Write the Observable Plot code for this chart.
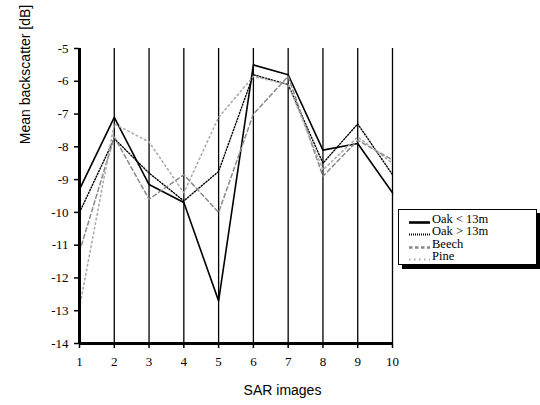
<!DOCTYPE html>
<html>
<head>
<meta charset="utf-8">
<script src="https://cdn.jsdelivr.net/npm/d3@7"></script>
<script src="https://cdn.jsdelivr.net/npm/@observablehq/plot@0.6"></script>
<style>
  body { margin: 0; background: #fff; }
  #wrap { position: relative; width: 540px; height: 405px; background: #fff; }
  #legend { position: absolute; left: 398px; top: 209px; width: 139px; height: 56px; box-sizing: border-box;
    border: 1px solid #000; background: #fff; box-shadow: 4px 4px 0 #000; font-family: "Liberation Serif", serif; font-size: 12.5px; color: #000; }
  .row { position: absolute; left: 0; height: 13px; width: 100%; }
  .row svg { position: absolute; left: 10px; top: 0; }
  .row span { position: absolute; left: 33px; top: 0px; line-height: 13px; white-space: nowrap; }
</style>
</head>
<body>
<div id="wrap"></div>
<script>
// ---- data ----
const images = [1, 2, 3, 4, 5, 6, 7, 8, 9, 10];
const oakLow  = [-9.3, -7.1, -9.15, -9.7, -12.7, -5.5, -5.8, -8.1, -7.9, -9.4];
const oakHigh = [-10.0, -7.75, -8.8, -9.65, -8.75, -5.8, -6.1, -8.5, -7.3, -8.85];
const beech   = [-11.2, -7.7, -9.6, -8.85, -10.0, -7.0, -5.85, -8.9, -7.8, -8.4];
const pine    = [-12.9, -7.3, -7.85, -9.4, -7.1, -5.85, -6.1, -8.7, -7.7, -8.5];
const seriesNames = ["Oak < 13m", "Oak > 13m", "Beech", "Pine"];
const yTicks = [-5, -6, -7, -8, -9, -10, -11, -12, -13, -14];

// ---- styles ----
const styles = [
  {stroke: "#000", strokeWidth: 1.6, dash: null, legendWidth: 2.6, legendDash: null},
  {stroke: "#000", strokeWidth: 1.4, dash: "1.2,1.8", legendWidth: 2.2, legendDash: "1,1"},
  {stroke: "#888", strokeWidth: 1.5, dash: "4,3", legendWidth: 2.6, legendDash: "3.5,2.5"},
  {stroke: "#aaa", strokeWidth: 1.6, dash: "1.5,3.2", legendWidth: 1.8, legendDash: "1.5,3.5"}
];

const seriesValues = [oakLow, oakHigh, beech, pine];
const tables = seriesValues.map((vals, i) => images.map((x, j) => ({image: x, value: vals[j], series: seriesNames[i]})));

const chart = Plot.plot({
  width: 540,
  height: 405,
  marginLeft: 79,
  marginRight: 148,
  marginTop: 48,
  marginBottom: 62,
  style: {fontFamily: "Liberation Serif", fontSize: "13px", color: "#000", background: "#fff"},
  x: {domain: [1, 10]},
  y: {domain: [-14, -5]},
  marks: [
    Plot.ruleX(images, {stroke: "#000", strokeWidth: 1.3}),
    ...tables.map((t, i) => Plot.line(t, {
      x: "image", y: "value",
      stroke: styles[i].stroke, strokeWidth: styles[i].strokeWidth,
      strokeDasharray: styles[i].dash || undefined
    })),
    Plot.ruleX([1], {stroke: "#000", strokeWidth: 3}),
    Plot.ruleY([-14], {stroke: "#000", strokeWidth: 3}),
    Plot.axisX(images, {tickSize: 5, tickPadding: 8, strokeWidth: 1.5, label: null, tickFormat: d => String(d)}),
    Plot.axisY(yTicks, {tickSize: 5, tickPadding: 6, strokeWidth: 1.5, label: null, tickFormat: d => String(d)}),
    Plot.text(["Mean backscatter [dB]"], {text: d => d, frameAnchor: "top-left", dx: -59, dy: 26, rotate: -90,
      fontFamily: "Liberation Sans", fontSize: 14, textAnchor: "middle"}),
    Plot.text(["SAR images"], {text: d => d, frameAnchor: "bottom-left", dx: 203, dy: 51,
      fontFamily: "Liberation Sans", fontSize: 14, textAnchor: "middle"})
  ]
});

const wrap = document.getElementById("wrap");
wrap.appendChild(chart);

// legend (HTML overlay)
const legend = document.createElement("div");
legend.id = "legend";
seriesNames.forEach((name, i) => {
  const row = document.createElement("div");
  row.className = "row";
  row.style.top = (2.5 + i * 12.6) + "px";
  const s = styles[i];
  row.innerHTML = `<svg width="22" height="13"><line x1="0" x2="21" y1="9.5" y2="9.5" stroke="${s.stroke}" stroke-width="${s.legendWidth}" ${s.legendDash ? `stroke-dasharray="${s.legendDash}"` : ""}/></svg><span>${name.replace("<", "&lt;").replace(">", "&gt;")}</span>`;
  legend.appendChild(row);
});
wrap.appendChild(legend);
</script>
</body>
</html>
